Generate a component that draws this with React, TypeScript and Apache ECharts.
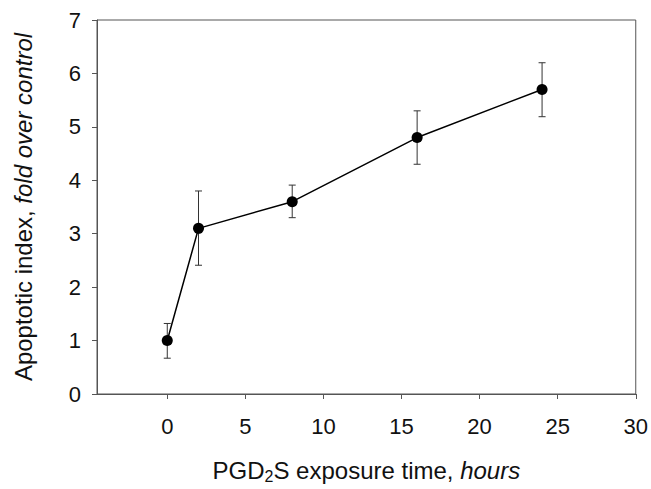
import React, { useEffect, useRef } from "react";
import * as echarts from "echarts";

const hours = [0, 2, 8, 16, 24];
const apoptoticIndex = [1.0, 3.1, 3.6, 4.8, 5.7];
const errorLow = [0.67, 2.41, 3.3, 4.3, 5.19];
const errorHigh = [1.32, 3.8, 3.91, 5.3, 6.2];
const xTickValues = [0, 5, 10, 15, 20, 25, 30];

export default function App() {
  const ref = useRef<HTMLDivElement>(null);
  useEffect(() => {
    if (!ref.current) return;
    const chart = echarts.init(ref.current, undefined, { renderer: "svg" });
    const font = "Liberation Sans, Arial, sans-serif";
    const axisColor = "#555";
    const lineData = hours.map((h, i) => [h, apoptoticIndex[i]]);
    const errData = hours.map((h, i) => [h, errorLow[i], errorHigh[i]]);
    chart.setOption({
      animation: false,
      backgroundColor: "#fff",
      grid: {
        left: 97,
        right: 12,
        top: 20,
        bottom: 92,
        show: true,
        borderColor: axisColor,
        borderWidth: 1,
      },
      xAxis: {
        type: "value",
        min: -4.5,
        max: 30,
        splitLine: { show: false },
        axisLine: { show: true, onZero: false, lineStyle: { color: axisColor, width: 1 } },
        axisTick: {
          show: true,
          length: 5,
          customValues: xTickValues,
          lineStyle: { color: axisColor },
        },
        axisLabel: {
          customValues: xTickValues,
          fontSize: 22,
          color: "#111",
          fontFamily: font,
          margin: 21,
        },
        name: "{a|PGD}{s|2}{a|S exposure time, }{b|hours}",
        nameLocation: "middle",
        nameGap: 62,
        nameTextStyle: {
          fontFamily: font,
          rich: {
            a: { fontSize: 24, color: "#111", fontFamily: font, lineHeight: 28 },
            s: { fontSize: 16, color: "#111", fontFamily: font, lineHeight: 15, verticalAlign: "bottom" },
            b: { fontSize: 24, color: "#111", fontFamily: font, fontStyle: "italic", lineHeight: 28 },
          },
        },
      },
      yAxis: {
        type: "value",
        min: 0,
        max: 7,
        interval: 1,
        splitLine: { show: false },
        axisLine: { show: true, onZero: false, lineStyle: { color: axisColor, width: 1 } },
        axisTick: { show: true, length: 5, lineStyle: { color: axisColor } },
        axisLabel: {
          fontSize: 22,
          color: "#111",
          fontFamily: font,
          margin: 16,
        },
        name: "{a|Apoptotic index, }{b|fold over control}",
        nameLocation: "middle",
        nameGap: 62,
        nameRotate: 90,
        nameTextStyle: {
          fontFamily: font,
          rich: {
            a: { fontSize: 24, color: "#111", fontFamily: font },
            b: { fontSize: 24, color: "#111", fontFamily: font, fontStyle: "italic" },
          },
        },
      },
      series: [
        {
          type: "custom",
          data: errData,
          z: 1,
          renderItem: (params: any, api: any) => {
            const x = api.value(0);
            const lo = api.coord([x, api.value(1)]);
            const hi = api.coord([x, api.value(2)]);
            const cap = 3.5;
            const style = { stroke: "#333", lineWidth: 1 };
            return {
              type: "group",
              children: [
                { type: "line", shape: { x1: lo[0], y1: lo[1], x2: hi[0], y2: hi[1] }, style },
                { type: "line", shape: { x1: lo[0] - cap, y1: lo[1], x2: lo[0] + cap, y2: lo[1] }, style },
                { type: "line", shape: { x1: hi[0] - cap, y1: hi[1], x2: hi[0] + cap, y2: hi[1] }, style },
              ],
            };
          },
        },
        {
          type: "line",
          data: lineData,
          z: 3,
          symbol: "circle",
          symbolSize: 11,
          lineStyle: { color: "#000", width: 1.5 },
          itemStyle: { color: "#000" },
        },
      ],
    });
    return () => chart.dispose();
  }, []);
  return (
    <div
      ref={ref}
      style={{ position: "fixed", left: 0, top: 0, width: 651, height: 489, background: "#fff" }}
    />
  );
}
